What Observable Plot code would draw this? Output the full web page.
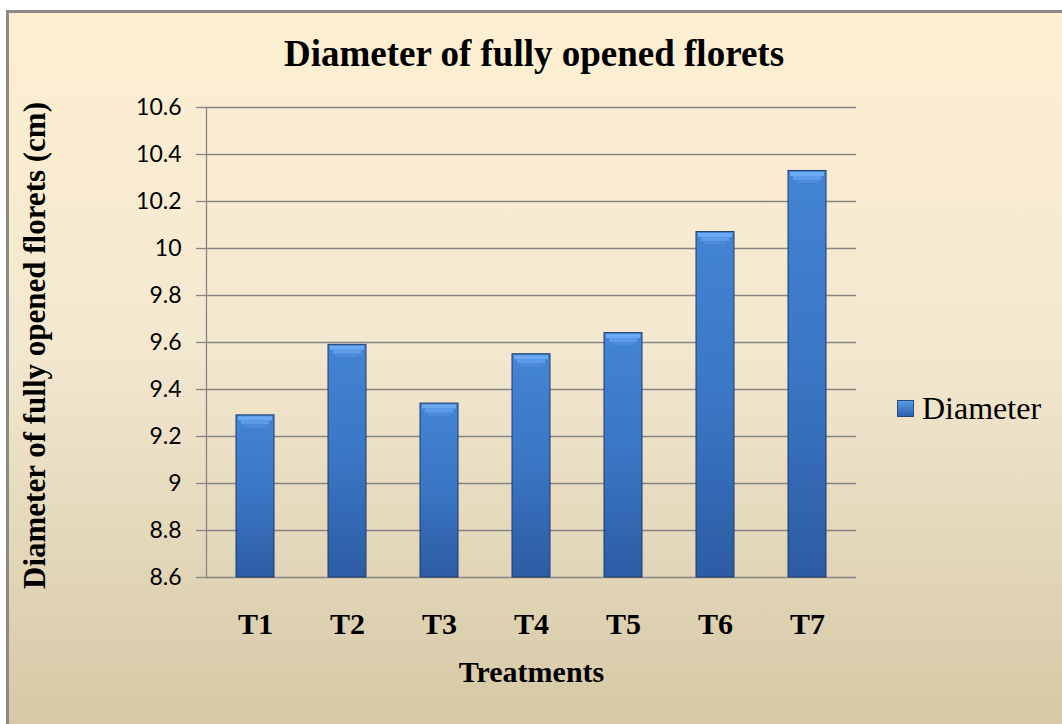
<!DOCTYPE html>
<html>
<head>
<meta charset="utf-8">
<script src="https://cdn.jsdelivr.net/npm/d3@7"></script>
<script src="https://cdn.jsdelivr.net/npm/@observablehq/plot@0.6"></script>
<style>
  body { margin: 0; background: #fff; }
  #wrap { position: relative; width: 1062px; height: 724px; overflow: hidden; }
  #bg { position: absolute; left: 6px; top: 10px; width: 1080px; height: 740px;
        border-left: 3px solid #8a8a8a; border-top: 3px solid #8a8a8a;
        background: linear-gradient(to bottom, #FEEFD2 0%, #F3E8D0 45%, #D4C6A3 100%); }
  #title { position: absolute; left: 6px; width: 1056px; top: 32px; text-align: center;
           font: bold 37px "Liberation Serif", serif; color: #000; }
  #chart { position: absolute; left: 0; top: 0; }
  #legend { position: absolute; left: 897px; top: 390px; display: flex; align-items: center;
            font: 32px "Liberation Serif", serif; color: #000; }
  #legend .sw { width: 17px; height: 17px; margin-right: 8px; box-sizing: border-box;
                border: 1px solid #24497e;
                background: linear-gradient(to bottom, #5b9be6, #2f62ab); }
</style>
</head>
<body>
<div id="wrap">
  <div id="bg"></div>
  <div id="title">Diameter of fully opened florets</div>
  <div id="chart"></div>
  <div id="legend"><span class="sw"></span><span>Diameter</span></div>
</div>
<script>
const categories = ["T1", "T2", "T3", "T4", "T5", "T6", "T7"];
const diameters = [9.29, 9.59, 9.34, 9.55, 9.64, 10.07, 10.33];
const yTicks = [8.6, 8.8, 9, 9.2, 9.4, 9.6, 9.8, 10, 10.2, 10.4, 10.6];
const xTitle = "Treatments";
const yTitle = "Diameter of fully opened florets (cm)";

const data = categories.map((t, i) => ({treatment: t, diameter: diameters[i]}));
const serif = "Liberation Serif, Times New Roman, serif";

const chart = Plot.plot({
  width: 1062,
  height: 724,
  marginLeft: 206,
  marginRight: 206,
  marginTop: 107,
  marginBottom: 147,
  style: {background: "transparent", overflow: "visible"},
  x: {domain: categories, paddingInner: 0.59, paddingOuter: 0.295, axis: null},
  y: {domain: [yTicks[0], yTicks[yTicks.length - 1]], axis: null},
  marks: [
    Plot.gridY(yTicks, {stroke: "#868686", strokeOpacity: 1, strokeWidth: 1.3}),
    Plot.frame({anchor: "left", stroke: "#868686", strokeWidth: 1.3}),
    Plot.axisY(yTicks, {tickSize: 10, stroke: "#868686", strokeWidth: 1.3, text: null, label: null}),
    Plot.axisY(yTicks, {tickSize: 0, tickPadding: 25, tickFormat: d => String(d),
      fontSize: 23, fontFamily: "Lato, Open Sans, sans-serif", fill: "#000", label: null}),
    Plot.barY(data, {x: "treatment", y1: yTicks[0], y2: "diameter",
      fill: "url(#barGrad)", stroke: "#1f3c68", strokeWidth: 1}),
    Plot.tickY(data, {x: "treatment", y: "diameter", stroke: "#6aaaf2",
      strokeWidth: 4, dy: 3, insetLeft: 2, insetRight: 2}),
    Plot.tickY(data, {x: "treatment", y: "diameter", stroke: "#5b9be8",
      strokeWidth: 4, dy: 7, insetLeft: 5, insetRight: 5}),
    Plot.tickY(data, {x: "treatment", y: "diameter", stroke: "#4d8cdb",
      strokeWidth: 3, dy: 10.5, insetLeft: 8, insetRight: 8}),
    Plot.axisX({tickSize: 0, tickPadding: 35, fontSize: 30, fontWeight: "bold",
      fontFamily: serif, fill: "#000", label: null}),
    Plot.text([xTitle], {text: d => d, frameAnchor: "bottom", dy: 104, textAnchor: "middle",
      fontSize: 30, fontWeight: "bold", fontFamily: serif, fill: "#000"}),
    Plot.text([yTitle], {text: d => d, frameAnchor: "left", dx: -171, dy: 3, rotate: -90,
      textAnchor: "middle", fontSize: 31, fontWeight: "bold", fontFamily: serif, fill: "#000"})
  ]
});

const defs = d3.select(chart).insert("defs", ":first-child");
const g = defs.append("linearGradient").attr("id", "barGrad")
  .attr("x1", 0).attr("y1", 0).attr("x2", 0).attr("y2", 1);
g.append("stop").attr("offset", 0).attr("stop-color", "#4384d4");
g.append("stop").attr("offset", 0.5).attr("stop-color", "#3a76c4");
g.append("stop").attr("offset", 1).attr("stop-color", "#2c5ca3");

document.getElementById("chart").appendChild(chart);
</script>
</body>
</html>
